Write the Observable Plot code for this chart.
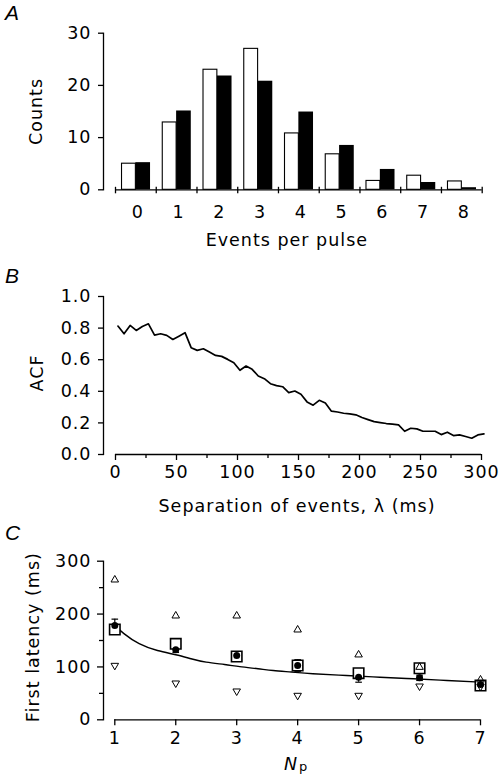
<!DOCTYPE html>
<html>
<head>
<meta charset="utf-8">
<script src="https://cdn.jsdelivr.net/npm/d3@7"></script>
<script src="https://cdn.jsdelivr.net/npm/@observablehq/plot@0.6"></script>
<style>
html,body{margin:0;padding:0;background:#fff;}
#fig{position:relative;width:502px;height:782px;overflow:hidden;background:#fff;}
.panel{position:absolute;left:0;}
.plabel{position:absolute;left:5px;font-family:"Liberation Sans",Arial,sans-serif;font-style:italic;font-size:21px;line-height:1;color:#000;}
</style>
</head>
<body>
<div id="fig">
  <div class="panel" id="pa" style="top:0px"></div>
  <div class="panel" id="pb" style="top:260px"></div>
  <div class="panel" id="pc" style="top:525px"></div>
  <div class="plabel" style="top:2px">A</div>
  <div class="plabel" style="top:265px">B</div>
  <div class="plabel" style="top:522px">C</div>
</div>
<script>
// ---------- Panel A: events per pulse histogram ----------
const events = [0, 1, 2, 3, 4, 5, 6, 7, 8];
const countsObserved = [5.0, 12.9, 23.0, 27.0, 10.8, 6.8, 1.7, 2.7, 1.6];   // open bars
const countsFitted   = [5.2, 15.1, 21.8, 20.8, 14.9, 8.5, 3.9, 1.4, 0.4];   // filled bars
const countTicks = [0, 10, 20, 30];

// ---------- Panel B: autocorrelation function ----------
const lagMs = [2, 7, 12, 17, 22, 27, 32, 37, 42, 47, 52, 57, 62, 67, 72, 77, 82, 87, 92, 97,
  102, 107, 112, 117, 122, 127, 132, 137, 142, 147, 152, 157, 162, 167, 172, 177, 182, 187, 192, 197,
  202, 207, 212, 217, 222, 227, 232, 237, 242, 247, 252, 257, 262, 267, 272, 277, 282, 287, 292, 297, 302];
const acfValues = [0.813, 0.764, 0.817, 0.785, 0.810, 0.827, 0.756, 0.764, 0.754, 0.728, 0.749, 0.771,
  0.676, 0.659, 0.669, 0.648, 0.627, 0.621, 0.602, 0.581, 0.533, 0.560, 0.539, 0.497, 0.480, 0.448,
  0.436, 0.429, 0.392, 0.402, 0.381, 0.333, 0.312, 0.343, 0.326, 0.274, 0.269, 0.261, 0.257, 0.251,
  0.234, 0.221, 0.208, 0.202, 0.196, 0.192, 0.187, 0.147, 0.166, 0.162, 0.147, 0.147, 0.147, 0.126,
  0.141, 0.120, 0.124, 0.114, 0.103, 0.124, 0.130];
const lagMajorTicks = [0, 50, 100, 150, 200, 250, 300];
const lagMinorTicks = [25, 75, 125, 175, 225, 275];
const acfTicks = [0, 0.2, 0.4, 0.6, 0.8, 1.0];

// ---------- Panel C: first latency vs Np ----------
const np = [1, 2, 3, 4, 5, 6, 7];
const latencyMean  = [178.4, 132.4, 121.6, 102.7, 80.6, 79.4, 66.8];   // filled circles
const latencyErr   = [12, 5, 6, 11, 9.5, 5, 5];
const latencySquare = [170.8, 143.7, 119.7, 102.7, 88.2, 97.6, 64.9]; // open squares
const latencyUp    = [264.8, 196.7, 196.7, 170.2, 123.0, 99.5, 75.7]; // up triangles
const latencyDown  = [102.7, 69.3, 54.2, 46.0, 46.0, 63.6, 63.0];     // down triangles
const fitNp      = [1, 1.15, 1.4, 1.7, 2, 2.25, 2.5, 2.8, 3.05, 3.35, 3.6, 3.9, 4.25, 4.8, 5.35, 5.9, 6.45, 7];
const fitLatency = [179, 163, 144, 131, 123, 115.5, 109, 104.5, 100.5, 96.5, 93.2, 90.3, 87.2, 83.8, 80.6, 77.6, 74.4, 71.2];
const latencyMajorTicks = [0, 100, 200, 300];
const latencyMinorTicks = [50, 150, 250];

const baseStyle = {
  fontFamily: '"DejaVu Sans", sans-serif',
  fontSize: "17.5px",
  letterSpacing: "1px",
  color: "black",
  background: "white",
  overflow: "visible"
};
const AX = 1.3; // axis stroke width

// ---------------- Panel A ----------------
const dataA = events.map((k, i) => ({k, obs: countsObserved[i], fit: countsFitted[i]}));
const boundsA = events.map(k => k - 0.5).concat([d3.max(events) + 0.5]);
const plotA = Plot.plot({
  width: 502, height: 260,
  marginTop: 32.7, marginBottom: 70.7, marginLeft: 103, marginRight: 20.3,
  x: {type: "linear", domain: [d3.min(events) - 0.5, d3.max(events) + 0.5], insetLeft: 12},
  y: {domain: [0, d3.max(countTicks)]},
  style: baseStyle,
  marks: [
    Plot.rectY(dataA, {x1: d => d.k - 0.34, x2: d => d.k, y1: 0, y2: "obs", fill: "white", stroke: "black", strokeWidth: 1.1}),
    Plot.rectY(dataA, {x1: d => d.k, x2: d => d.k + 0.36, y1: 0, y2: "fit", fill: "black"}),
    Plot.ruleY([0], {x1: d3.min(boundsA), x2: d3.max(boundsA), strokeWidth: AX}),
    Plot.ruleX(boundsA, {x: d => d, y1: 0, y2: 0, insetTop: -2.5, insetBottom: -4, strokeWidth: AX}),
    Plot.frame({anchor: "left", strokeWidth: AX}),
    Plot.axisY(countTicks, {tickSize: 5, tickPadding: 7, label: null, strokeWidth: AX}),
    Plot.axisX(events, {tickSize: 0, tickPadding: 15.5, label: null, dx: 2}),
    Plot.text(["Counts"], {text: d => d, frameAnchor: "left", rotate: -90, dx: -67.5, lineAnchor: "middle", textAnchor: "middle"}),
    Plot.text(["Events per pulse"], {text: d => d, frameAnchor: "bottom", dx: -6, dy: 50.7, lineAnchor: "middle", textAnchor: "middle"})
  ]
});
document.getElementById("pa").append(plotA);

// ---------------- Panel B ----------------
const dataB = lagMs.map((l, i) => ({lag: l, acf: acfValues[i]}));
const plotB = Plot.plot({
  width: 502, height: 265,
  marginTop: 36, marginBottom: 71, marginLeft: 103, marginRight: 21,
  x: {domain: [d3.min(lagMajorTicks), d3.max(lagMajorTicks)], insetLeft: 12},
  y: {domain: [0, d3.max(acfTicks)]},
  style: baseStyle,
  marks: [
    Plot.ruleY([0], {x1: d3.min(lagMajorTicks), x2: d3.max(lagMajorTicks), strokeWidth: AX}),
    Plot.frame({anchor: "left", strokeWidth: AX}),
    Plot.axisX(lagMajorTicks, {tickSize: 6, tickPadding: 5, label: null, strokeWidth: AX}),
    Plot.axisX(lagMinorTicks, {tickSize: 4, tickFormat: () => "", label: null, strokeWidth: AX}),
    Plot.axisY(acfTicks, {tickSize: 5, tickPadding: 7, label: null, tickFormat: d3.format(".1f"), strokeWidth: AX}),
    Plot.line(dataB, {x: "lag", y: "acf", stroke: "black", strokeWidth: 1.7, strokeLinejoin: "round"}),
    Plot.text(["ACF"], {text: d => d, frameAnchor: "left", rotate: -90, dx: -66, dy: -2.5, lineAnchor: "middle", textAnchor: "middle"}),
    Plot.text(["Separation of events, λ (ms)"], {text: d => d, frameAnchor: "bottom", dx: 4.5, dy: 52, lineAnchor: "middle", textAnchor: "middle"})
  ]
});
document.getElementById("pb").append(plotB);

// ---------------- Panel C ----------------
const dataC = np.map((n, i) => ({
  n, mean: latencyMean[i], err: latencyErr[i], sq: latencySquare[i], up: latencyUp[i], down: latencyDown[i]
}));
const dataFit = fitNp.map((n, i) => ({n, v: fitLatency[i]}));
const triangleDown = {
  draw(context, size) {
    const y = Math.sqrt(size / (Math.sqrt(3) * 3));
    context.moveTo(0, y * 2);
    context.lineTo(-Math.sqrt(3) * y, -y);
    context.lineTo(Math.sqrt(3) * y, -y);
    context.closePath();
  }
};
const triangleUp = {
  draw(context, size) {
    const y = Math.sqrt(size / (Math.sqrt(3) * 3));
    context.moveTo(0, -y * 2);
    context.lineTo(-Math.sqrt(3) * y, y);
    context.lineTo(Math.sqrt(3) * y, y);
    context.closePath();
  }
};
const capSymbol = {
  draw(context, size) {
    const r = Math.sqrt(size / Math.PI);
    context.moveTo(-r, 0);
    context.lineTo(r, 0);
  }
};
const plotC = Plot.plot({
  width: 502, height: 257,
  marginTop: 35.7, marginBottom: 62.7, marginLeft: 103, marginRight: 22,
  x: {domain: [d3.min(np), d3.max(np)], insetLeft: 11.3},
  y: {domain: [0, d3.max(latencyMajorTicks)]},
  style: baseStyle,
  marks: [
    Plot.ruleY([0], {x1: d3.min(np), x2: d3.max(np), strokeWidth: AX}),
    Plot.frame({anchor: "left", strokeWidth: AX}),
    Plot.axisX(np, {tickSize: 6, tickPadding: 6, label: null, strokeWidth: AX}),
    Plot.axisY(latencyMajorTicks, {tickSize: 6, tickPadding: 6, label: null, strokeWidth: AX}),
    Plot.axisY(latencyMinorTicks, {tickSize: 4, tickFormat: () => "", label: null, strokeWidth: AX}),
    Plot.line(dataFit, {x: "n", y: "v", curve: "natural", stroke: "black", strokeWidth: 1.4}),
    Plot.ruleX(dataC, {x: "n", y1: d => d.mean - d.err, y2: d => d.mean + d.err, stroke: "black", strokeWidth: 1.2}),
    Plot.dot(dataC, {x: "n", y: d => d.mean + d.err, symbol: capSymbol, r: 3.3, stroke: "black", strokeWidth: 1.2}),
    Plot.dot(dataC, {x: "n", y: d => d.mean - d.err, symbol: capSymbol, r: 3.3, stroke: "black", strokeWidth: 1.2}),
    Plot.dot(dataC, {x: "n", y: "sq", symbol: "square", r: 5.9, fill: "white", stroke: "black", strokeWidth: 1.6}),
    Plot.dot(dataC, {x: "n", y: "up", symbol: triangleUp, r: 2.8, fill: "none", stroke: "black", strokeWidth: 1}),
    Plot.dot(dataC, {x: "n", y: "down", symbol: triangleDown, r: 2.8, fill: "none", stroke: "black", strokeWidth: 1}),
    Plot.dot(dataC, {x: "n", y: "mean", r: 3.5, fill: "black", stroke: "none"}),
    Plot.text(["First latency (ms)"], {text: d => d, frameAnchor: "left", rotate: -90, dx: -70.5, dy: -3.3, lineAnchor: "middle", textAnchor: "middle"}),
    Plot.text(["N"], {text: d => d, frameAnchor: "bottom", dx: -1, dy: 44.3, lineAnchor: "middle", textAnchor: "middle", fontStyle: "italic"}),
    Plot.text(["p"], {text: d => d, frameAnchor: "bottom", dx: 11.5, dy: 51.5, lineAnchor: "bottom", textAnchor: "middle", fontSize: 13, letterSpacing: 0})
  ]
});
document.getElementById("pc").append(plotC);
</script>
</body>
</html>
